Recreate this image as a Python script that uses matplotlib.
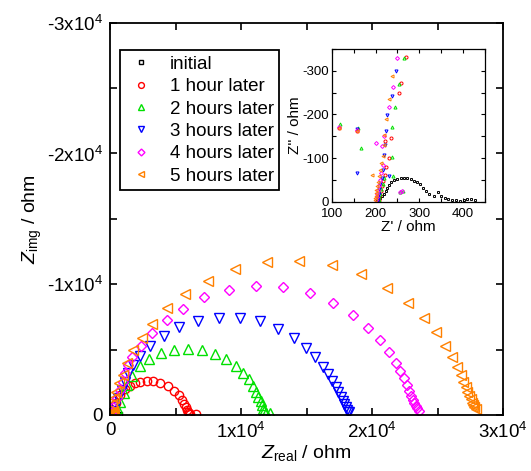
import matplotlib
matplotlib.use('Agg')
import matplotlib.pyplot as plt
from matplotlib.ticker import MultipleLocator, FuncFormatter

# ---------------- data (ohm) ----------------
labels = ['initial', '1 hour later', '2 hours later', '3 hours later',
          '4 hours later', '5 hours later']

zr_init = [205, 210, 215, 219, 223, 227, 231, 235, 242, 250, 258, 266, 273, 281,
           288, 295, 301, 308, 315, 322, 333, 342, 350, 358, 366, 374, 383, 392,
           401, 410, 419, 427, 560, 760]
zi_init = [-3, -8, -13, -18, -25, -31, -38, -44, -50, -53, -55, -55, -54, -52,
           -48, -44, -40, -32, -24, -18, -14, -22, -12, -8, -6, -4, -3, -2,
           -4, -7, -6, -4, -20, -60]

zr_1h = [207, 208, 210, 212, 215, 218, 221, 225, 230, 235, 259, 269, 117, 158, 222,
         253, 460, 760, 1145, 1530, 1910, 2290, 2800, 3310, 3820, 4450, 4900, 5250,
         5500, 5680, 5800, 5880, 5960, 6030, 6080, 6580]
zi_1h = [-3, -9, -16, -25, -35, -48, -62, -80, -100, -146, -273, -331, -170, -163, -140,
         -250, -890, -1530, -1965, -2220, -2420, -2520, -2600, -2575, -2470, -2200, -1860, -1500,
         -1150, -870, -620, -420, -260, -160, -100, -75]

zr_2h = [208, 209, 211, 213, 216, 220, 239, 238, 238, 244, 254, 264, 118, 160, 168, 256, 262,
         510, 760, 1070, 1320, 1650, 2290, 3000, 3890, 4900, 5980, 7000, 8020, 8880, 9590,
         10160, 10580, 10890, 11150, 11320, 11500, 11630, 11710, 11780, 11880, 12210]
zi_2h = [-3, -10, -18, -28, -40, -55, -60, -102, -172, -216, -270, -329, -178, -168, -123, -22, -25,
         -510, -1020, -1660, -2290, -2980, -3750, -4280, -4740, -5000, -5080, -4940, -4660, -4270, -3760,
         -3240, -2760, -2240, -1780, -1400, -1050, -740, -480, -310, -180, -130]

zr_3h = [205, 206, 207, 209, 211, 214, 217, 219, 222, 225, 227, 238, 246, 157, 158, 230,
         380, 640, 890, 1150, 1400, 1780, 2290, 3050, 4150, 5290, 6720, 8310, 9900, 11470,
         12800, 14050, 14940, 15650, 16240, 16670, 16970, 17230, 17430, 17610, 17760, 17890,
         17990, 18070, 18140, 18250]
zi_3h = [-3, -10, -18, -28, -40, -55, -72, -108, -130, -162, -198, -242, -300, -65, -167, -60,
         -640, -1270, -1910, -2550, -3190, -3820, -4510, -5300, -6040, -6730, -7200, -7440, -7450, -7170,
         -6600, -5910, -5150, -4410, -3690, -3110, -2600, -2170, -1780, -1400, -1090, -820,
         -590, -380, -250, -200]

zr_4h = [202, 203, 204, 206, 208, 210, 213, 216, 215, 219, 231, 241, 248, 117, 158, 200, 255, 260,
         253, 510, 760, 1000, 1150, 1400, 1650, 2340, 3180, 4330, 5600, 7190, 9110, 11120,
         13230, 15270, 17050, 18530, 19680, 20610, 21330, 21810, 22140, 22440, 22650, 22830,
         22980, 23110, 23230, 23340, 23460, 23610]
zi_4h = [-3, -10, -18, -27, -38, -50, -65, -85, -127, -150, -218, -264, -330, -172, -165, -135, -22, -25,
         -640, -1270, -1910, -2550, -3190, -3820, -4460, -5280, -6250, -7260, -8130, -9000, -9560, -9890,
         -9760, -9350, -8600, -7650, -6650, -5740, -4790, -4000, -3390, -2800, -2290, -1860,
         -1480, -1150, -890, -690, -510, -310]

zr_5h = [198, 199, 200, 201, 202, 203, 205, 207, 210, 213, 216, 219, 219, 223, 231, 238, 116, 157, 192,
         150, 300, 460, 710, 1020, 1270, 1780, 2420, 3180, 4380, 5700, 7470, 9560, 11960, 14450,
         16920, 19160, 21120, 22720, 24000, 24890, 25570, 26130, 26470, 26770, 26970, 27150,
         27280, 27430, 27540, 27660, 27740, 27820, 27920]
zi_5h = [-3, -8, -14, -20, -27, -35, -45, -58, -72, -88, -105, -130, -152, -189, -235, -289, -170, -162, -62,
         -840, -1270, -1780, -2420, -3060, -3950, -4970, -5870, -6960, -8160, -9240, -10260, -11140, -11690, -11780,
         -11470, -10760, -9740, -8590, -7440, -6370, -5300, -4460, -3690, -3060, -2550, -2120,
         -1780, -1450, -1200, -940, -760, -590, -440]

series_x = [zr_init, zr_1h, zr_2h, zr_3h, zr_4h, zr_5h]
series_y = [zi_init, zi_1h, zi_2h, zi_3h, zi_4h, zi_5h]
colors = ['black', '#ff0000', '#00e000', '#0000ff', '#ff00ff', '#ff8000']
markers = ['s', 'o', '^', 'v', 'D', '<']
msizes = [3.5, 6, 6.5, 6.5, 5, 6.5]
inset_ms = [1.4, 2.2, 2.2, 2.2, 2.0, 2.2]

# ---------------- style ----------------
plt.rcParams['font.family'] = ['Liberation Sans', 'DejaVu Sans']
plt.rcParams['mathtext.fontset'] = 'custom'
plt.rcParams['mathtext.rm'] = 'Liberation Sans'
plt.rcParams['mathtext.it'] = 'Liberation Sans:italic'

fig = plt.figure(figsize=(5.31, 4.71), dpi=100)
ax = fig.add_axes([0.2072, 0.1189, 0.7401, 0.8329])

for x, y, c, m, s, lab in zip(series_x, series_y, colors, markers, msizes, labels):
    ax.plot(x, y, linestyle='none', marker=m, ms=s, mfc='none', mec=c, mew=1.0, label=lab)

ax.set_xlim(0, 30000)
ax.set_ylim(0, -30000)


def sci_fmt(v, pos):
    n = int(round(v / 1e4))
    if n == 0:
        return '0'
    sign = '-' if n < 0 else ''
    return sign + str(abs(n)) + 'x10$^{4}$'


ax.xaxis.set_major_locator(MultipleLocator(10000))
ax.xaxis.set_minor_locator(MultipleLocator(5000))
ax.yaxis.set_major_locator(MultipleLocator(10000))
ax.yaxis.set_minor_locator(MultipleLocator(5000))
ax.xaxis.set_major_formatter(FuncFormatter(sci_fmt))
ax.yaxis.set_major_formatter(FuncFormatter(sci_fmt))
ax.tick_params(which='both', direction='in', top=True, right=True, length=5, width=1.2,
               labelsize=13.5, pad=5)
for sp in ax.spines.values():
    sp.set_linewidth(1.3)

ax.set_xlabel(r'$Z_{\mathrm{real}}$ / ohm', fontsize=14, labelpad=1)
ax.set_ylabel(r'$Z_{\mathrm{img}}$ / ohm', fontsize=14, labelpad=2)

leg = ax.legend(loc='upper left', bbox_to_anchor=(0.0254, 0.93), borderaxespad=0,
                frameon=True, fancybox=False, edgecolor='black', framealpha=1,
                fontsize=13.5, handlelength=1.6, handletextpad=0.75, labelspacing=0.28,
                borderpad=0.3, markerscale=0.7)
leg.get_frame().set_linewidth(1.3)

# ---------------- inset ----------------
axi = fig.add_axes([0.6247, 0.5718, 0.2887, 0.3242])
for x, y, c, m, s in zip(series_x, series_y, colors, markers, inset_ms):
    axi.plot(x, y, linestyle='none', marker=m, ms=s, mfc='none', mec=c, mew=0.7)
axi.set_xlim(100, 450)
axi.set_ylim(0, -350)
axi.xaxis.set_major_locator(MultipleLocator(100))
axi.xaxis.set_minor_locator(MultipleLocator(50))
axi.yaxis.set_major_locator(MultipleLocator(100))
axi.yaxis.set_minor_locator(MultipleLocator(50))
axi.xaxis.set_major_formatter(FuncFormatter(lambda v, p: '%d' % round(v)))
axi.yaxis.set_major_formatter(FuncFormatter(lambda v, p: ('-%d' % round(-v)) if v < 0 else '%d' % round(v)))
axi.tick_params(which='both', direction='in', top=True, right=True, length=3, width=0.8,
                labelsize=9.5, pad=2)
axi.tick_params(axis='x', pad=4.5)
for sp in axi.spines.values():
    sp.set_linewidth(0.9)
axi.set_xlabel("Z' / ohm", fontsize=11, labelpad=0)
axi.set_ylabel("Z'' / ohm", fontsize=11, labelpad=0)

fig.savefig('out.png', dpi=100)
